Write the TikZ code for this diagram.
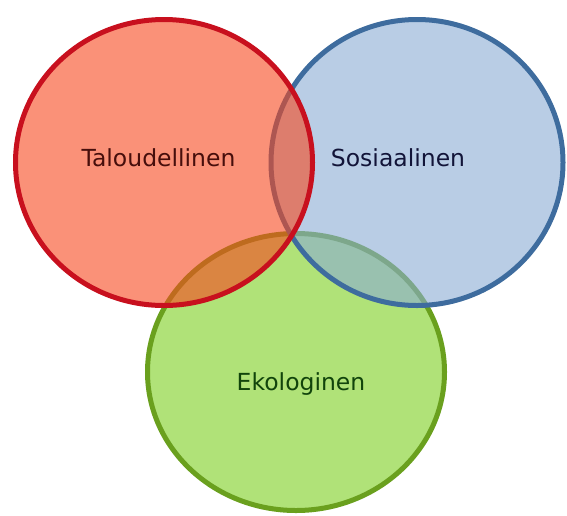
\documentclass[tikz,border=0pt]{standalone}
\usepackage{fontspec}
\setmainfont{DejaVu Sans}
\usepackage{xcolor}
\usepackage{tikz}
\definecolor{redfill}{RGB}{247,72,30}
\definecolor{redline}{RGB}{200,16,30}
\definecolor{bluefill}{RGB}{138,172,212}
\definecolor{blueline}{RGB}{62,108,158}
\definecolor{greenfill}{RGB}{176,226,120}
\definecolor{greenline}{RGB}{106,160,30}

\begin{document}
\begin{tikzpicture}[x=1pt, y=-1pt,
    label/.style={font=\fontsize{23.5}{28}\selectfont, anchor=base, text opacity=0.9}
]
  \useasboundingbox (0,0) rectangle (567,515);

  % Ekologinen (unterer Kreis)
  \fill[greenfill] (296,372) ellipse (148.5 and 138.5);
  \draw[greenline, line width=5pt] (296,372) ellipse (148.5 and 138.5);

  % Sosiaalinen (rechter Kreis)
  \fill[bluefill, fill opacity=0.6] (417,162.5) ellipse (146 and 143);
  \draw[blueline, line width=5pt] (417,162.5) ellipse (146 and 143);

  % Taloudellinen (linker Kreis)
  \fill[redfill, fill opacity=0.6] (164,162.5) ellipse (148.5 and 143);
  \draw[redline, line width=5pt] (164,162.5) ellipse (148.5 and 143);

  % Labels
  \node[label, text=black!80!red] (tal) at (158.5,166) {Taloudellinen};
  \node[label, text=black!85!blue] (sos) at (398,166) {Sosiaalinen};
  \node[label, text=black!80!green] (eko) at (301,390) {Ekologinen};

\end{tikzpicture}
\end{document}
